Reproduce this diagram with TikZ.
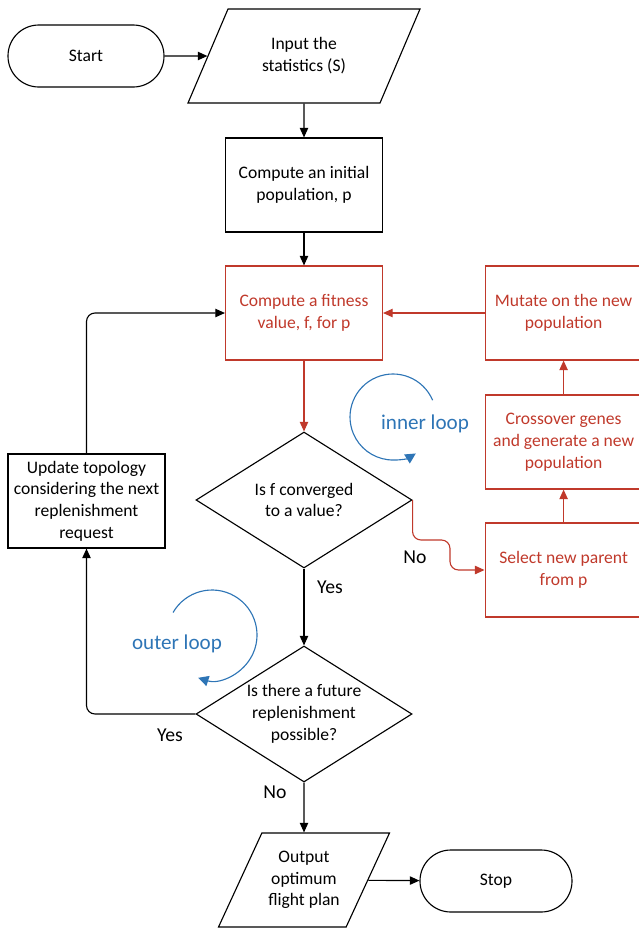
\documentclass[tikz,border=0pt]{standalone}
\usepackage{fontspec}
\setmainfont{Carlito}
\usepackage{xcolor}
\usepackage{tikz}
\usetikzlibrary{shapes.geometric,arrows.meta}
\definecolor{gared}{RGB}{192,57,43}
\definecolor{loopblue}{RGB}{46,117,182}

\begin{document}
\begin{tikzpicture}[every node/.style={align=center, font=\fontsize{12.5}{15.5}\selectfont},
                    proc/.style={draw, line width=0.8pt, minimum width=3.925cm, minimum height=2.35cm},
                    gaproc/.style={proc, draw=gared, text=gared},
                    term/.style={draw, line width=0.8pt, rounded corners=0.77cm, minimum width=3.9cm, minimum height=1.55cm},
                    io/.style={draw, line width=0.8pt, trapezium, trapezium stretches body, minimum height=2.35cm},
                    decision/.style={draw, line width=0.8pt, diamond, aspect=1.59, inner sep=0pt, minimum width=5.4cm, minimum height=3.4cm},
                    lbl/.style={font=\fontsize{14}{16}\selectfont},
                    looplbl/.style={text=loopblue, font=\fontsize{15}{17}\selectfont},
                    flow/.style={line width=0.8pt, -{Triangle[length=2.4mm, width=2.1mm]}},
                    loopline/.style={line width=0.8pt, draw=loopblue, -{Triangle[length=2.6mm, width=2.6mm]}}]
                    \useasboundingbox (0,0) rectangle (15.975,-23.225);

                    % Define node coordinates explicitly
                    \node[term] (Start)    at (2.15,-1.4)    {Start};
                    \node[io, trapezium left angle=66, trapezium right angle=114, minimum width=5.8cm, inner ysep=19pt]
                                (Input)    at (7.6,-1.4)     {Input the\\statistics (S)};
                    \node[proc] (Init)     at (7.6,-4.625)   {Compute an initial\\population, p};
                    \node[gaproc] (Fitness)at (7.6,-7.825)   {Compute a fitness\\value, f, for p};
                    \node[decision] (Conv) at (7.6,-12.5)    {Is f converged\\to a value?};
                    \node[gaproc] (Mutate) at (14.09,-7.825) {Mutate on the new\\population};
                    \node[gaproc] (Cross)  at (14.09,-11.05) {Crossover genes\\and generate a new\\population};
                    \node[gaproc] (Select) at (14.09,-14.25) {Select new parent\\from p};
                    \node[proc] (Update)   at (2.1625,-12.525) {Update topology\\considering the next\\replenishment\\request};
                    \node[decision] (Future) at (7.6,-17.85) {Is there a future\\replenishment\\possible?};
                    \node[io, trapezium left angle=64, trapezium right angle=116, minimum width=4.275cm, inner ysep=11pt]
                                (Output)   at (7.6,-22.0)    {Output\\optimum\\flight plan};
                    \node[term, minimum width=3.8cm] (Stop) at (12.4,-22.025) {Stop};

                    % Main flow
                    \draw[flow] (Start) -- (Input);
                    \draw[flow] (Input) -- (Init);
                    \draw[flow] (Init) -- (Fitness);
                    \draw[flow] (Conv) -- (Future);
                    \draw[flow] (Future.south) -- (Output.north);
                    \draw[flow] (Output) -- (Stop);

                    % Inner loop (GA)
                    \coordinate (NoBend) at (11.25,-13.5);
                    \draw[flow, gared] (Fitness) -- (Conv);
                    \draw[flow, gared, rounded corners=6pt] (Conv.east) |- (NoBend) |- (Select.west);
                    \draw[flow, gared] (Select) -- (Cross);
                    \draw[flow, gared] (Cross) -- (Mutate);
                    \draw[flow, gared] (Mutate) -- (Fitness);

                    % Outer loop
                    \draw[flow, rounded corners=6pt] (Future.west) -| (Update.south);
                    \draw[flow, rounded corners=6pt] (Update.north) |- (Fitness.west);

                    % Branch labels
                    \node[lbl] (NoIn)   at (10.375,-13.925) {No};
                    \node[lbl] (YesIn)  at (8.25,-14.675)   {Yes};
                    \node[lbl] (YesOut) at (4.25,-18.375)   {Yes};
                    \node[lbl] (NoOut)  at (6.875,-19.8)    {No};

                    % Loop marks
                    \draw[loopline] (10.815,-10.005) arc[start angle=23, end angle=302, radius=1.075cm];
                    \node[looplbl] (InnerLbl) at (10.625,-10.6) {inner loop};
                    \draw[loopline] (4.326,-15.3125) arc[start angle=150, end angle=-108, radius=1.125cm];
                    \node[looplbl] (OuterLbl) at (4.425,-16.1) {outer loop};
                \end{tikzpicture}
\end{document}
